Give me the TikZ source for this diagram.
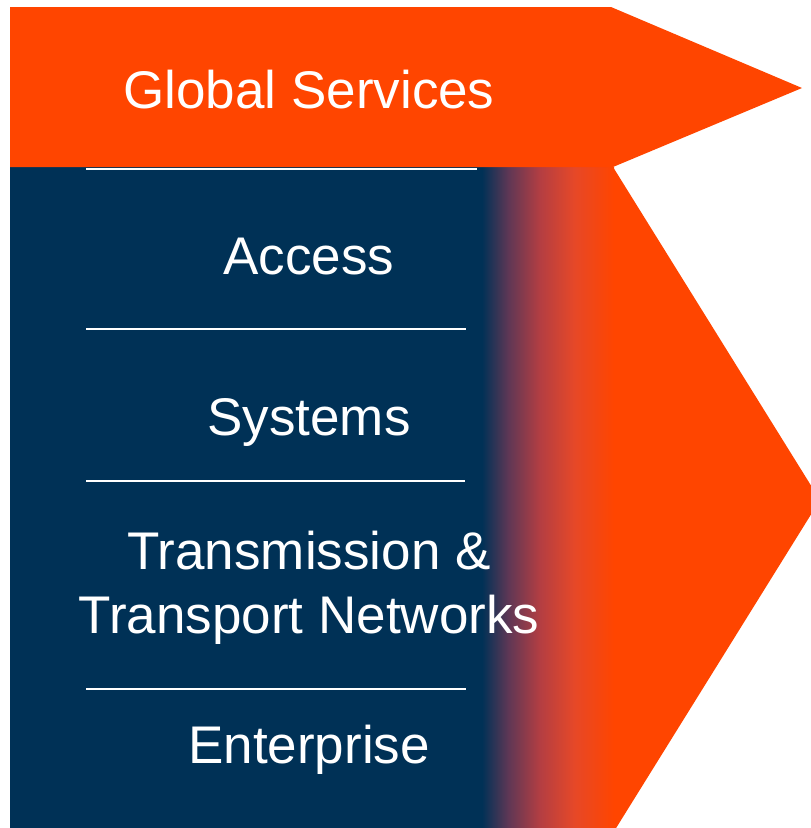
\documentclass[tikz,border=0pt]{standalone}
\usepackage{fontspec}
\setmainfont{Liberation Sans}
\usetikzlibrary{positioning}
\definecolor{deepnavy}{RGB}{0,49,86}
\definecolor{flame}{RGB}{255,69,0}
\definecolor{fadeA}{RGB}{95,55,85}
\definecolor{fadeB}{RGB}{180,62,66}
\definecolor{fadeC}{RGB}{230,72,40}
\pgfdeclarehorizontalshading{navyflame}{100bp}{%
  color(0bp)=(deepnavy); color(25bp)=(deepnavy);
  color(35bp)=(fadeA); color(47bp)=(fadeB); color(60bp)=(fadeC);
  color(75bp)=(flame); color(100bp)=(flame)}
\tikzset{
  tier/.style={ % white caption of one band
    text=white, anchor=base, align=center,
    font=\fontsize{53}{64}\selectfont,
  },
  divider/.style={draw=white, line width=2pt},
}

\begin{document}
\begin{tikzpicture}[x=1pt,y=-1pt]
  \useasboundingbox (0,0) rectangle (811,828);
  % lower chevron
  \fill[flame] (10,167) -- (613,167) -- (820,500) -- (613,833) -- (10,833) -- cycle;
  \fill[deepnavy] (10,167) rectangle (483,833);
  \shade[shading=navyflame] (482,167) rectangle (614,833);
  % top arrow
  \fill[flame] (10,7) -- (611,7) -- (802,88) -- (613,167) -- (10,167) -- cycle;
  % dividers
  \draw[divider] (86,169) -- (477,169);
  \draw[divider] (86,329) -- (466,329);
  \draw[divider] (86,481) -- (465,481);
  \draw[divider] (86,689) -- (466,689);
  % captions
  \node[tier] (glob) at (309,108) {Global Services};
  \node[tier] (acc) at (309,274) {Access};
  \node[tier] (sys) at (309,435) {Systems};
  \node[tier] (trans) at (309,633) {Transmission \&\\Transport Networks};
  \node[tier] (ent) at (309,763) {Enterprise};
\end{tikzpicture}
\end{document}
